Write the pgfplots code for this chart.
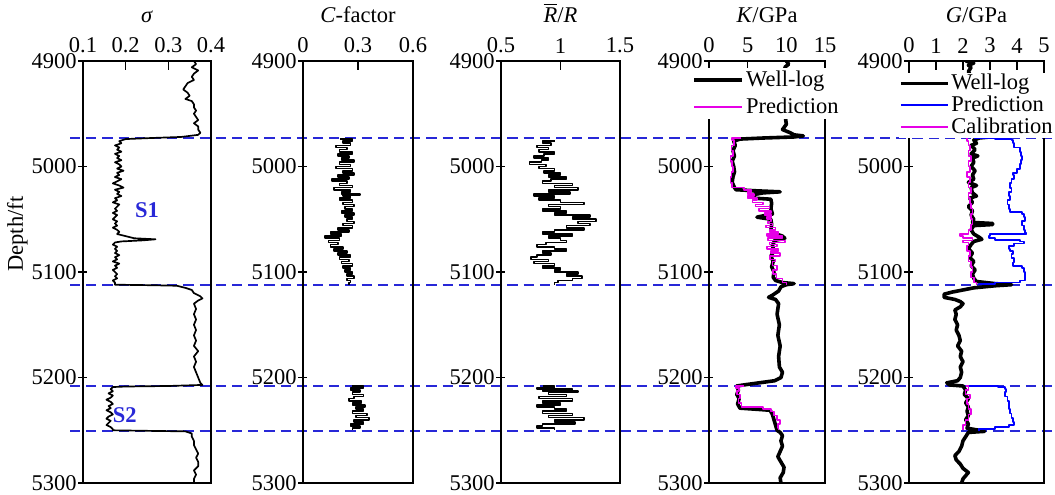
\documentclass[border=0pt]{standalone}
\usepackage{fontspec}
\setmainfont{Liberation Serif}
\usepackage{pgfplots}
\pgfplotsset{compat=1.18}
\definecolor{dashblue}{RGB}{40,40,215}
\definecolor{predblue}{RGB}{0,0,255}
\definecolor{calpink}{RGB}{230,0,230}

\pgfplotsset{
  logpanel/.style={
    scale only axis, height=187.6pt, anchor=center,
    y dir=reverse, ymin=4900, ymax=5300,
    ytick={4900,5000,5100,5200,5300},
    xticklabel pos=upper, xtick pos=upper, ytick pos=left,
    xtick align=inside, ytick align=center,
    major tick length=4pt,
    yticklabel style={inner sep=0.6pt},
    /pgf/number format/assume math mode=true,
    /pgf/number format/fixed,
    /pgf/number format/set thousands separator={},
    axis line style={line width=0.8pt},
    every tick/.style={black, line width=0.6pt},
    every axis plot/.append style={line join=round},
  },
  legend image code/.code={\draw[#1] (0pt,0pt) -- (21pt,0pt);},
}

\begin{document}
\begin{tikzpicture}
\path[use as bounding box] (0,0) rectangle (468.9pt,220pt);

% dashed boundaries across all tracks
\begin{axis}[scale only axis, width=437.7pt, height=187.6pt, anchor=center,
  at={(250pt,99.1pt)}, hide axis, xmin=0, xmax=1, ymin=4900, ymax=5300, y dir=reverse]
\addplot[dashblue, line width=0.9pt, dash pattern=on 4.5pt off 2.7pt] coordinates {(0,4973) (1,4973)};
\addplot[dashblue, line width=0.9pt, dash pattern=on 4.5pt off 2.7pt] coordinates {(0,5112) (1,5112)};
\addplot[dashblue, line width=0.9pt, dash pattern=on 4.5pt off 2.7pt] coordinates {(0,5208) (1,5208)};
\addplot[dashblue, line width=0.9pt, dash pattern=on 4.5pt off 2.7pt] coordinates {(0,5251) (1,5251)};
\end{axis}

% sigma
\begin{axis}[logpanel, width=56.9pt, at={(65.33pt,99.1pt)},
  xmin=0.1, xmax=0.4, xtick={0.1,0.2,0.3,0.4},
  xlabel={\textit{σ}}, ylabel={Depth/ft},
  ylabel style={at={(ticklabel cs:0.59)}, inner sep=1pt}]
\addplot[black, line width=0.75pt] coordinates {
(0.36,4900) (0.365,4903) (0.355,4906) (0.37,4909) (0.36,4912) (0.355,4915) (0.36,4918)
(0.345,4921) (0.34,4924) (0.335,4927) (0.345,4930) (0.35,4933) (0.34,4936) (0.355,4938)
(0.36,4941) (0.36,4944) (0.365,4947) (0.36,4950) (0.365,4953) (0.37,4956) (0.36,4959)
(0.37,4962) (0.37,4965) (0.375,4968) (0.37,4970) (0.33,4972) (0.26,4973) (0.2,4974)
(0.185,4976) (0.19,4978) (0.175,4980) (0.185,4982) (0.18,4984) (0.19,4986) (0.175,4988)
(0.185,4990) (0.18,4992) (0.19,4994) (0.175,4996) (0.185,4998) (0.19,5000) (0.18,5002)
(0.195,5004) (0.18,5006) (0.185,5008) (0.175,5010) (0.19,5012) (0.18,5014) (0.17,5016)
(0.185,5018) (0.195,5020) (0.175,5022) (0.185,5024) (0.18,5026) (0.19,5028) (0.175,5030)
(0.18,5032) (0.17,5034) (0.185,5036) (0.18,5038) (0.175,5040) (0.18,5042) (0.17,5044)
(0.18,5046) (0.175,5048) (0.17,5050) (0.18,5052) (0.175,5054) (0.18,5056) (0.17,5058)
(0.18,5060) (0.185,5062) (0.18,5064) (0.2,5066) (0.22,5068) (0.27,5069) (0.24,5070)
(0.19,5071) (0.175,5072) (0.17,5074) (0.18,5076) (0.175,5078) (0.18,5080) (0.175,5082)
(0.185,5084) (0.175,5086) (0.18,5088) (0.17,5090) (0.185,5092) (0.175,5094) (0.18,5096)
(0.17,5098) (0.175,5100) (0.18,5102) (0.175,5104) (0.18,5106) (0.17,5108) (0.175,5110)
(0.175,5112) (0.26,5112.5) (0.32,5113) (0.34,5115) (0.355,5117) (0.36,5120) (0.375,5123)
(0.38,5125) (0.37,5127) (0.36,5130) (0.365,5135) (0.36,5140) (0.365,5145) (0.36,5150)
(0.365,5155) (0.36,5160) (0.365,5165) (0.36,5170) (0.37,5175) (0.36,5180) (0.365,5185)
(0.36,5190) (0.365,5195) (0.37,5200) (0.375,5205) (0.38,5207) (0.3,5208) (0.2,5208.5)
(0.17,5209) (0.165,5211) (0.17,5213) (0.16,5215) (0.17,5217) (0.165,5219) (0.155,5221)
(0.165,5223) (0.17,5225) (0.16,5227) (0.165,5229) (0.155,5231) (0.165,5233) (0.17,5235)
(0.16,5237) (0.155,5239) (0.165,5241) (0.16,5243) (0.155,5245) (0.165,5247) (0.17,5249)
(0.17,5250) (0.25,5250.5) (0.34,5251) (0.355,5253) (0.355,5256) (0.36,5260) (0.36,5264)
(0.365,5268) (0.37,5272) (0.365,5276) (0.37,5280) (0.37,5284) (0.36,5288) (0.365,5292)
(0.36,5296) (0.36,5300)};
\node[font=\bfseries, text=dashblue] at (axis cs:0.25,5041) {S1};
\node[font=\bfseries, text=dashblue] at (axis cs:0.198,5236) {S2};
\end{axis}

% C-factor
\begin{axis}[logpanel, width=48.9pt, at={(159.1pt,99.1pt)},
  xmin=0, xmax=0.6, xtick={0,0.3,0.6},
  xlabel={\textit{C}-factor}]
\addplot[black, line width=0.75pt, const plot] coordinates {
(0.2,4974) (0.27,4976) (0.22,4978) (0.26,4980) (0.18,4982) (0.24,4984) (0.2,4986)
(0.27,4988) (0.19,4990) (0.25,4992) (0.21,4994) (0.28,4996) (0.2,4998) (0.26,5000)
(0.18,5002) (0.27,5004) (0.22,5006) (0.28,5008) (0.19,5010) (0.25,5012) (0.16,5014)
(0.24,5016) (0.2,5018) (0.27,5020) (0.17,5022) (0.26,5024) (0.21,5026) (0.31,5027)
(0.22,5028) (0.26,5030) (0.2,5032) (0.27,5034) (0.22,5036) (0.28,5038) (0.23,5040)
(0.27,5042) (0.21,5044) (0.28,5046) (0.23,5048) (0.27,5050) (0.24,5052) (0.28,5054)
(0.22,5056) (0.27,5058) (0.19,5060) (0.25,5062) (0.15,5064) (0.21,5066) (0.12,5068)
(0.2,5070) (0.14,5072) (0.19,5074) (0.15,5076) (0.22,5078) (0.17,5080) (0.24,5082)
(0.19,5084) (0.26,5086) (0.2,5088) (0.25,5090) (0.21,5092) (0.27,5094) (0.22,5096)
(0.26,5098) (0.23,5100) (0.27,5102) (0.24,5104) (0.28,5106) (0.24,5108) (0.26,5110)
(0.25,5112)};
\addplot[black, line width=0.75pt, const plot] coordinates {
(0.27,5208) (0.33,5210) (0.26,5212) (0.31,5214) (0.27,5216) (0.33,5218) (0.28,5220)
(0.25,5222) (0.32,5224) (0.27,5226) (0.34,5228) (0.29,5230) (0.33,5232) (0.27,5234)
(0.35,5236) (0.29,5238) (0.36,5240) (0.28,5242) (0.33,5244) (0.26,5246) (0.31,5248)
(0.27,5250)};
\end{axis}

% Rbar/R
\begin{axis}[logpanel, width=52.9pt, at={(249.1pt,99.1pt)},
  xmin=0.5, xmax=1.5, xtick={0.5,1,1.5},
  xlabel={$\overline{\mbox{\textit{R}}}$/\textit{R}}]
\addplot[black, line width=0.75pt, const plot] coordinates {
(0.95,4976) (0.85,4978) (0.92,4980) (0.8,4982) (0.9,4984) (0.82,4986) (0.95,4988)
(0.86,4990) (0.78,4992) (0.9,4994) (0.84,4996) (0.74,4998) (0.88,5000) (0.82,5002)
(0.95,5004) (0.86,5006) (1.0,5008) (0.9,5010) (1.05,5012) (0.92,5014) (0.85,5016)
(1.1,5018) (0.95,5020) (1.15,5022) (0.9,5024) (1.08,5026) (0.78,5028) (0.95,5030)
(0.82,5032) (1.0,5034) (1.2,5036) (0.9,5038) (1.0,5040) (0.85,5042) (1.05,5044)
(0.95,5046) (1.25,5048) (1.1,5050) (1.3,5052) (1.15,5054) (1.25,5056) (1.05,5058)
(1.2,5060) (0.95,5062) (0.85,5064) (1.1,5066) (0.9,5068) (1.0,5070) (1.05,5072)
(0.88,5074) (0.8,5076) (0.95,5078) (1.05,5080) (0.85,5082) (0.92,5084) (0.8,5086)
(0.75,5088) (0.9,5090) (0.78,5092) (0.95,5094) (0.85,5096) (1.0,5098) (0.95,5100)
(1.15,5102) (1.05,5104) (1.18,5106) (1.1,5108) (0.98,5110) (0.95,5112)};
\addplot[black, line width=0.75pt, const plot] coordinates {
(0.85,5208) (0.95,5210) (0.8,5211) (1.1,5212) (0.85,5213) (1.15,5214) (0.9,5216)
(1.05,5218) (0.82,5220) (1.1,5222) (0.85,5224) (1.0,5226) (0.8,5228) (0.95,5230)
(1.05,5232) (0.85,5234) (1.1,5236) (0.9,5238) (1.2,5240) (0.95,5242) (1.12,5244)
(0.85,5246) (0.8,5248) (0.95,5250)};
\end{axis}

% K
\begin{axis}[logpanel, width=51.6pt, at={(340.9pt,99.1pt)},
  xmin=0, xmax=15, xtick={0,5,10,15},
  xlabel={\textit{K}/GPa},
  legend style={at={(0.5,0.985)}, anchor=north, fill=white, draw=none, inner sep=0pt,
    nodes={inner sep=1.2pt}, row sep=1.2pt},
  legend cell align=left]
\addplot[black, line width=1.6pt] coordinates {
(10,4900) (10.3,4903) (9.8,4906) (10,4910) (9.6,4915) (10.2,4920) (9.8,4925) (10,4930)
(9.5,4935) (10.1,4940) (9.8,4945) (10.2,4950) (9.9,4955) (10,4960) (9.5,4965) (10.5,4968)
(11,4970) (12.2,4971) (11,4972) (7,4973) (4,4974) (3.2,4976) (3.4,4980) (3.1,4985)
(3.3,4990) (3.0,4995) (3.2,5000) (3.3,5005) (3.1,5010) (3.0,5015) (3.3,5020) (3.5,5022)
(6,5023) (9.2,5024) (7,5025) (5.5,5027) (5.8,5030) (8,5031) (8.1,5035) (8,5040)
(8.2,5045) (6.2,5048) (8,5050) (8.1,5055) (8,5060) (8.3,5063) (9.5,5066) (9.8,5068)
(8.5,5070) (8.2,5075) (8.4,5080) (8,5085) (8.3,5090) (8.1,5095) (8.4,5100) (8.3,5105)
(8.6,5108) (9.5,5110) (11,5111) (10,5112) (9.3,5114) (9,5118) (8.2,5122) (7.7,5124)
(8.6,5126) (9,5130) (8.8,5140) (9.1,5150) (8.9,5160) (9.2,5170) (9,5180) (9.1,5190)
(9.5,5195) (9.3,5200) (8.5,5203) (6.5,5205) (4.5,5207) (3.6,5208) (3.8,5212) (3.6,5216)
(3.9,5220) (3.7,5225) (4.0,5229) (6,5230) (7.9,5231) (8.2,5235) (8.4,5240) (8.6,5245)
(8.8,5250) (9.2,5252) (9.5,5255) (9.3,5260) (9.5,5265) (9.2,5270) (8.9,5275) (9.3,5280)
(9.7,5285) (9.6,5290) (9.2,5295) (9.3,5300)};
\addlegendentry{Well-log}
\addplot[calpink, line width=0.7pt, const plot] coordinates {
(4.2,4973) (3.0,4975) (3.2,4980) (2.9,4985) (3.1,4990) (2.8,4995) (3.0,5000) (3.1,5005)
(2.9,5010) (2.8,5015) (3.0,5020) (4.5,5022) (5.5,5024) (5.0,5026) (5.8,5028) (5.0,5030)
(6.2,5032) (5.6,5034) (7.0,5036) (6.0,5038) (7.8,5040) (6.5,5042) (8.0,5044) (7.2,5046)
(8.1,5048) (7.5,5050) (8.0,5052) (7.6,5054) (8.2,5056) (7.4,5058) (8.6,5060) (7.8,5062)
(9.0,5064) (7.5,5066) (9.5,5068) (7.6,5070) (9.8,5072) (7.8,5074) (8.8,5076) (7.5,5078)
(9.0,5080) (8.0,5082) (9.2,5085) (7.9,5088) (8.6,5090) (8.2,5094) (8.8,5098) (8.3,5102)
(8.7,5106) (9.5,5110) (10,5112)};
\addlegendentry{Prediction}
\addplot[calpink, line width=0.7pt, const plot, forget plot] coordinates {
(4.5,5208) (3.5,5210) (3.9,5213) (3.6,5216) (4.0,5220) (3.8,5224) (4.2,5228) (7.0,5230)
(8.0,5232) (8.4,5236) (8.8,5240) (9.2,5244) (8.9,5248) (9.0,5250)};
\end{axis}

% G
\begin{axis}[logpanel, width=60pt, at={(434pt,99.1pt)},
  xmin=0, xmax=5, xtick={0,1,2,3,4,5},
  xlabel={\textit{G}/GPa},
  legend style={at={(0.5,0.973)}, anchor=north, fill=white, draw=none, inner sep=0pt,
    nodes={inner sep=0.6pt}, row sep=0pt},
  legend cell align=left]
\addplot[black, line width=1.6pt] coordinates {
(2.1,4900) (2.4,4902) (2.2,4904) (2.3,4906) (2.2,4910) (2.3,4915) (2.25,4920) (2.3,4930)
(2.2,4940) (2.3,4950) (2.25,4960) (2.4,4965) (2.6,4968) (3.2,4970) (3.8,4971) (3.0,4972)
(2.6,4973) (2.4,4975) (2.5,4978) (2.3,4980) (2.45,4984) (2.3,4988) (2.55,4990) (2.35,4992)
(2.4,4996) (2.3,5000) (2.45,5004) (2.35,5008) (2.4,5012) (2.2,5015) (2.5,5018) (2.3,5020)
(2.35,5025) (2.5,5028) (2.25,5030) (2.35,5034) (2.2,5038) (2.35,5042) (2.3,5046) (2.4,5050)
(2.35,5053) (3.1,5054) (3.1,5055) (2.4,5056) (2.3,5060) (2.4,5064) (2.6,5067) (2.7,5069)
(2.4,5071) (2.3,5074) (2.2,5078) (2.35,5082) (2.25,5086) (2.4,5090) (2.3,5094) (2.45,5098)
(2.35,5102) (2.4,5106) (2.5,5109) (3.2,5111) (3.8,5112) (3.2,5113) (2.4,5115) (2.0,5117)
(1.6,5119) (1.3,5121) (1.3,5124) (1.7,5126) (1.9,5128) (2.0,5130) (1.9,5133) (1.7,5136)
(1.75,5140) (1.7,5145) (1.8,5150) (1.75,5155) (1.85,5160) (1.9,5165) (1.8,5170) (1.95,5175)
(1.9,5180) (2.0,5185) (1.9,5190) (1.95,5195) (1.9,5200) (1.8,5203) (1.4,5205) (1.5,5207)
(2.0,5208) (2.1,5212) (2.05,5216) (2.2,5220) (2.1,5224) (2.2,5228) (2.15,5232) (2.2,5236)
(2.1,5240) (2.2,5244) (2.15,5248) (2.6,5250) (2.8,5251) (2.2,5252) (2.1,5256) (2.0,5260)
(1.95,5265) (1.85,5270) (1.7,5274) (1.75,5278) (1.9,5282) (2.0,5286) (2.2,5290) (2.1,5293)
(2.0,5296) (1.95,5300)};
\addlegendentry{Well-log}
\addplot[predblue, line width=0.8pt, const plot] coordinates {
(2.4,4973) (3.2,4974) (3.8,4975) (3.85,4978) (3.9,4982) (4.1,4986) (4.15,4990) (4.2,4994)
(4.15,4998) (4.1,5002) (4.0,5006) (3.85,5008) (3.9,5012) (3.8,5016) (3.75,5020) (3.8,5024)
(3.7,5028) (3.75,5032) (3.65,5036) (3.7,5040) (3.75,5043) (4.2,5045) (4.25,5048) (4.3,5052)
(4.2,5056) (4.25,5060) (4.3,5063) (4.35,5064) (3.0,5066) (2.95,5068) (3.2,5070) (4.1,5071)
(4.25,5073) (3.9,5075) (3.7,5078) (3.75,5080) (3.85,5083) (3.8,5087) (3.9,5091) (3.85,5094)
(4.2,5096) (4.25,5100) (4.3,5104) (4.3,5108) (4.1,5110) (3.2,5111) (2.6,5112)};
\addlegendentry{Prediction}
\addplot[predblue, line width=0.8pt, const plot, forget plot] coordinates {
(2.1,5208) (3.3,5209) (3.55,5211) (3.6,5214) (3.55,5218) (3.65,5222) (3.7,5226) (3.7,5230)
(3.75,5234) (3.8,5238) (3.85,5242) (3.9,5245) (3.7,5247) (3.2,5249) (2.6,5251)};
\addplot[calpink, line width=0.7pt, const plot] coordinates {
(2.1,4973) (2.15,4976) (2.2,4980) (2.25,4985) (2.2,4990) (2.3,4995) (2.2,5000) (2.25,5005)
(2.15,5010) (2.25,5015) (2.2,5020) (2.3,5025) (2.2,5030) (2.25,5035) (2.3,5040) (2.35,5045)
(2.3,5050) (2.35,5055) (2.3,5060) (2.2,5064) (1.9,5066) (2.0,5068) (2.35,5070) (2.0,5072)
(2.2,5075) (2.15,5080) (2.25,5085) (2.2,5090) (2.3,5095) (2.35,5100) (2.3,5105) (2.4,5110)
(2.5,5112)};
\addlegendentry{Calibration}
\addplot[calpink, line width=0.7pt, const plot, forget plot] coordinates {
(2.1,5208) (2.2,5212) (2.1,5216) (2.25,5220) (2.15,5225) (2.2,5230) (2.3,5235) (2.2,5240)
(2.1,5245) (2.0,5250)};
\end{axis}
\end{tikzpicture}
\end{document}
